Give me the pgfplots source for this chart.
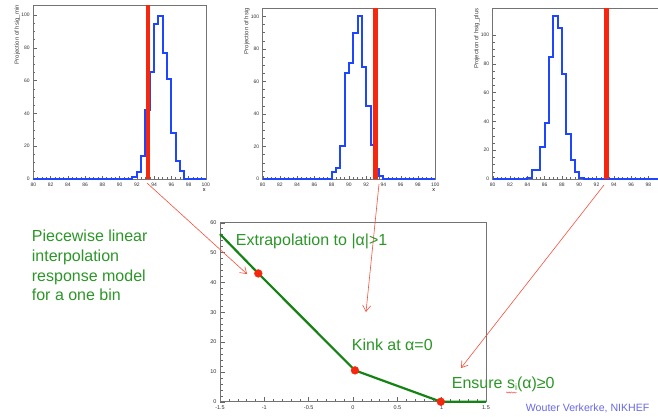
\documentclass[border=0pt]{standalone}
\usepackage{fontspec}
\setmainfont{Liberation Sans}
\usepackage{pgfplots}
\pgfplotsset{compat=1.18}
\usetikzlibrary{arrows.meta,decorations.pathmorphing}
\definecolor{rootblue}{RGB}{30,70,255}
\definecolor{rootred}{RGB}{245,40,15}
\definecolor{txtgreen}{RGB}{45,150,40}
\definecolor{lgreen}{RGB}{20,130,20}
\definecolor{arrowred}{RGB}{245,80,60}
\definecolor{author}{RGB}{105,105,230}
\pgfplotsset{
  rootstyle/.style={
    scale only axis, anchor=south west, clip=false,
    axis line style={black!55, line width=0.5pt},
    tick align=inside, tick pos=left,
    major tick length=3.5pt, minor tick length=2pt,
    every tick/.style={black!60, line width=0.4pt},
    tick label style={font=\fontsize{5}{5}\selectfont, text=black!80},
    /pgf/number format/assume math mode=true,
  },
  hist/.style={rootstyle, width=172.5pt, xmin=80, xmax=100, ymin=0,
    xtick={80,82,...,100}, minor x tick num=3,
    ytick={0,20,...,100}, minor y tick num=3,
    xlabel style={at={(rel axis cs:1,0)}, anchor=north east, yshift=-9.5pt, font=\fontsize{5.5}{5.5}\selectfont, inner sep=0pt},
    ylabel style={at={(rel axis cs:-0.075,1)}, anchor=south east, font=\fontsize{6}{6}\selectfont, inner sep=0pt, text=black!75},
  },
  histline/.style={const plot, rootblue, line width=2pt, line join=miter},
}
\begin{document}
\begin{tikzpicture}
\path[use as bounding box] (0pt,0pt) rectangle (658pt,416pt);
\clip (0pt,0pt) rectangle (658pt,416pt);
\fill[white] (0pt,0pt) rectangle (658pt,416pt);

% histogram 1
\begin{axis}[hist, at={(33.3pt,237pt)}, height=174pt, ymax=106.1, xlabel={x}, ylabel={Projection of hsig\_min}]
\addplot[histline] coordinates {
(80,0) (91.5,1.4) (92,4) (92.5,14) (93,42) (93.5,65.5) (94,94.5) (94.5,99.6) (95,76.6) (95.5,61) (96,28) (96.5,11) (97,5) (97.5,0) (100,0)};
\addplot[fill=rootred, draw=none] coordinates {(93.03,0) (93.03,106.1) (93.57,106.1) (93.57,0)} -- cycle;
\end{axis}

% histogram 2
\begin{axis}[hist, at={(262.7pt,237pt)}, height=171pt, ymax=105.1, xlabel={x}, ylabel={Projection of hsig}]
\addplot[histline] coordinates {
(80,0) (88,4) (88.5,7) (89,20) (89.5,65) (90,71) (90.5,90) (91,100) (91.5,68.6) (92,45) (92.5,21) (93,6) (93.5,2) (94,0) (100,0)};
\addplot[fill=rootred, draw=none] coordinates {(92.78,0) (92.78,105.1) (93.32,105.1) (93.32,0)} -- cycle;
\end{axis}

% histogram 3 (cut off at the right edge of the slide)
\begin{axis}[hist, at={(492.7pt,237pt)}, width=173pt, height=170.7pt, ymax=118.5, xtick={80,82,...,98}, ylabel={Projection of hsig\_plus}]
\addplot[histline] coordinates {
(80,0) (84,1) (84.5,6) (85,6) (85.5,22) (86,39) (86.5,85) (87,113) (87.5,105) (88,73) (88.5,31) (89,13) (89.5,5) (90,1) (90.5,0) (100,0)};
\addplot[fill=rootred, draw=none] coordinates {(92.88,0) (92.88,118.5) (93.42,118.5) (93.42,0)} -- cycle;
\end{axis}

% response model
\begin{axis}[rootstyle, at={(220pt,14.3pt)}, width=266pt, height=179pt,
  xmin=-1.5, xmax=1.5, ymin=0, ymax=60,
  xtick={-1.5,-1,...,1.5}, minor x tick num=4,
  ytick={0,10,...,60}, minor y tick num=4,
  major tick length=4.5pt, minor tick length=2.5pt,
  tick label style={font=\fontsize{5.5}{5.5}\selectfont},
  xticklabel style={/pgf/number format/fixed}]
\addplot[lgreen, line width=2.2pt] coordinates {(-1.5,56.2) (-1.068,43) (0.022,10.5) (0.99,0) (1.5,0)};
\addplot[only marks, mark=*, mark size=3.9pt, color=rootred] coordinates {(-1.068,43) (0.022,10.5) (0.99,0)};
\end{axis}

% annotation arrows
\begin{scope}[arrowred, line width=0.6pt, -{Straight Barb[length=6pt,width=8pt]}]
\draw (147pt,233pt) -- (247pt,142pt);
\draw (379pt,232pt) -- (366pt,104pt);
\draw (604pt,231pt) -- (461pt,48pt);
\end{scope}

% texts
\begin{scope}[every node/.style={inner sep=0pt, anchor=base west, text=txtgreen, font=\fontsize{16}{19}\selectfont}]
\node at (31.7pt,174.3pt) {Piecewise linear};
\node at (31.7pt,154.3pt) {interpolation};
\node at (31.7pt,135pt) {response model};
\node at (31.7pt,116pt) {for a one bin};
\node at (235.7pt,171pt) {Extrapolation to |α|>1};
\node at (351.7pt,65.3pt) {Kink at α=0};
\node (ens) at (451.7pt,27.7pt) {Ensure s\raisebox{-2.5pt}{\fontsize{9}{9}\selectfont i}(α)≥0};
\end{scope}
\draw[red!80, line width=0.4pt, decorate, decoration={snake, amplitude=0.6pt, segment length=2.4pt}] (506pt,23.5pt) -- (517pt,23.5pt);
\node[inner sep=0pt, anchor=base west, text=author, font=\fontsize{10.6}{12}\selectfont] at (525.7pt,4.3pt) {Wouter Verkerke, NIKHEF};
\end{tikzpicture}
\end{document}
